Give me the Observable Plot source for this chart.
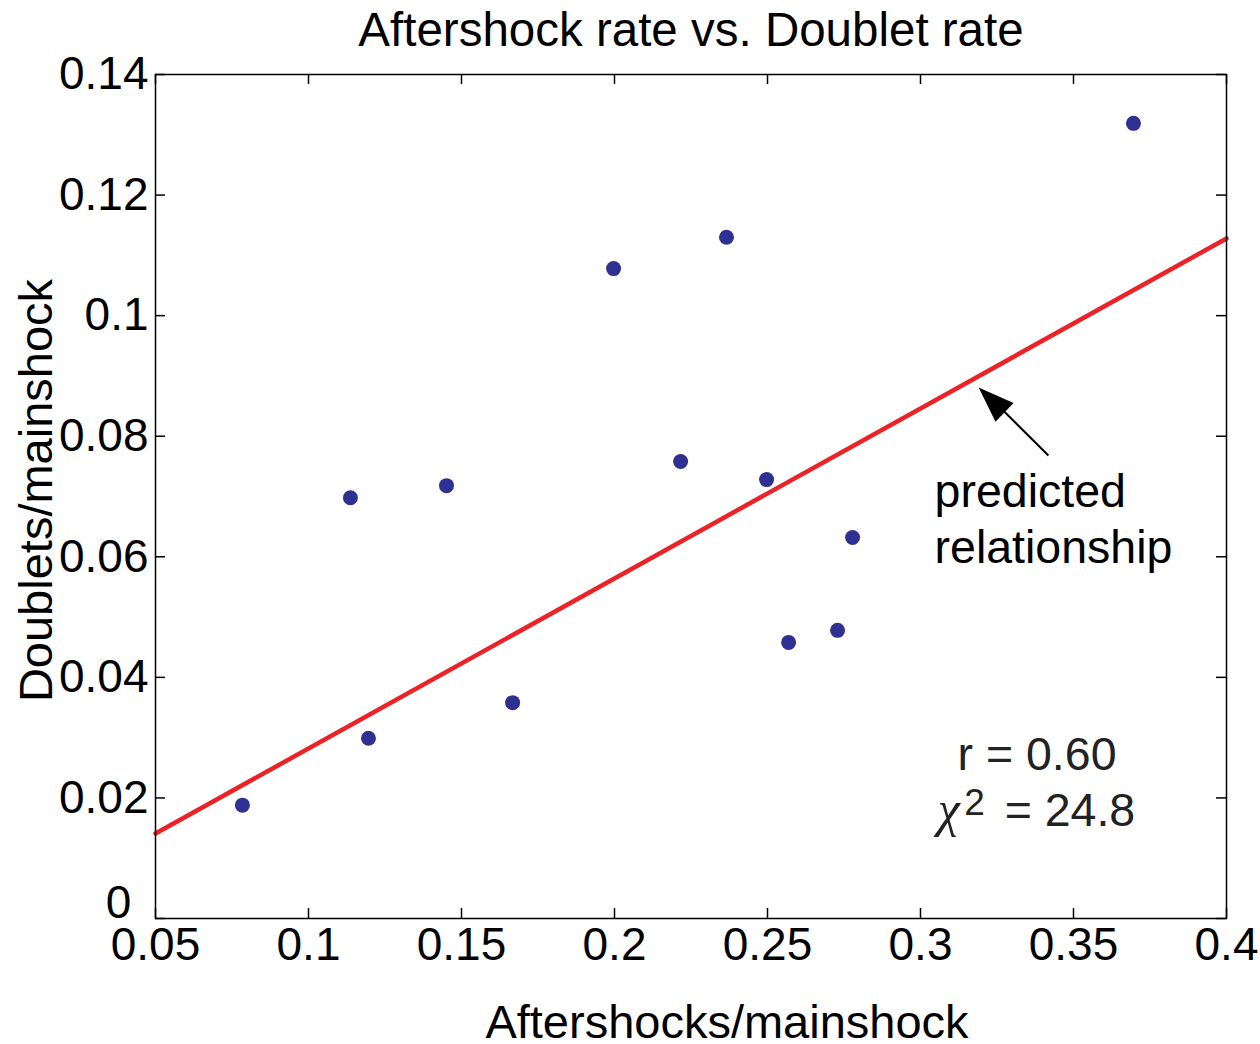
<!DOCTYPE html>
<html><head><meta charset="utf-8">
<script src="https://cdn.jsdelivr.net/npm/d3@7"></script>
<script src="https://cdn.jsdelivr.net/npm/@observablehq/plot@0.6"></script>
<style>body{margin:0;background:#fff}</style>
</head><body><div id="chart"></div>
<script>
// Data
const aftershocks = [0.0784, 0.1137, 0.1196, 0.1451, 0.1667, 0.1997, 0.2216, 0.2366, 0.2497, 0.2569, 0.2729, 0.2778, 0.3696];
const doublets    = [0.0188, 0.0698, 0.0299, 0.0718, 0.0358, 0.1078, 0.0758, 0.1130, 0.0728, 0.0458, 0.0478, 0.0632, 0.1319];
const fitX = [0.05, 0.4];
const fitY = [0.0141, 0.1128];
const xTicks = [0.05, 0.1, 0.15, 0.2, 0.25, 0.3, 0.35, 0.4];
const xTickLabels = ["0.05", "0.1", "0.15", "0.2", "0.25", "0.3", "0.35", "0.4"];
const yTicks = [0, 0.02, 0.04, 0.06, 0.08, 0.1, 0.12, 0.14];
const yTickLabels = ["0", "0.02", "0.04", "0.06", "0.08", "0.1", "0.12", "0.14"];
const titleText = "Aftershock rate vs. Doublet rate";
const xLabel = "Aftershocks/mainshock";
const yLabel = "Doublets/mainshock";

const points = aftershocks.map((x, i) => ({x, y: doublets[i]}));
const fit = fitX.map((x, i) => ({x, y: fitY[i]}));

const W = 1260, H = 1044, ML = 155, MR = 34, MT = 74, MB = 126;
const FW = W - ML - MR, FH = H - MT - MB;
const font = "Liberation Sans, Arial, Helvetica, sans-serif";

const arrowHead = {
  draw(context) {
    context.moveTo(0, 0);
    context.lineTo(-13, 36);
    context.lineTo(13, 36);
    context.closePath();
  }
};

const chart = Plot.plot({
  width: W, height: H,
  marginLeft: ML, marginRight: MR, marginTop: MT, marginBottom: MB,
  style: {fontFamily: font, fontSize: "46px", background: "white", color: "black"},
  x: {domain: [0.05, 0.4]},
  y: {domain: [0, 0.14]},
  marks: [
    Plot.line(fit, {x: "x", y: "y", stroke: "#ec2227", strokeWidth: 4.5}),
    Plot.dot(points, {x: "x", y: "y", r: 7.5, fill: "#2e3192", stroke: "none"}),
    // inward ticks on all four sides
    Plot.ruleX(xTicks, {x: d => d, insetTop: FH - 10, stroke: "black", strokeWidth: 1.5}),
    Plot.ruleX(xTicks, {x: d => d, insetBottom: FH - 10, stroke: "black", strokeWidth: 1.5}),
    Plot.ruleY(yTicks, {y: d => d, insetRight: FW - 10, stroke: "black", strokeWidth: 1.5}),
    Plot.ruleY(yTicks, {y: d => d, insetLeft: FW - 10, stroke: "black", strokeWidth: 1.5}),
    Plot.frame({stroke: "black", strokeWidth: 1.5}),
    Plot.axisX({ticks: xTicks, tickFormat: d => xTickLabels[xTicks.indexOf(d)], tickSize: 0, tickPadding: 9, fontSize: 46, label: null}),
    Plot.axisY({ticks: yTicks.slice(1), tickFormat: d => yTickLabels[yTicks.indexOf(d)], tickSize: 0, tickPadding: 7, fontSize: 46, label: null}),
    Plot.text([yTickLabels[0]], {x: 0.05, y: 0, text: d => d, dx: -37, dy: -15, textAnchor: "middle", fontSize: 46}),
    // title and axis labels
    Plot.text([titleText], {text: d => d, frameAnchor: "top", textAnchor: "middle", lineAnchor: "bottom", dy: -29, fontSize: 47.5}),
    Plot.text([xLabel], {text: d => d, frameAnchor: "bottom", textAnchor: "middle", lineAnchor: "bottom", dy: 119, dx: 36, fontSize: 47}),
    Plot.text([yLabel], {text: d => d, frameAnchor: "left", textAnchor: "middle", lineAnchor: "bottom", rotate: -90, dx: -104, dy: -6, fontSize: 47}),
    // annotation arrow
    Plot.link([{x1: 0.3418, y1: 0.0768, x2: 0.3240, y2: 0.0858}], {x1: "x1", y1: "y1", x2: "x2", y2: "y2", stroke: "black", strokeWidth: 2}),
    Plot.dot([{x: 0.3190, y: 0.0881}], {x: "x", y: "y", symbol: arrowHead, rotate: -46, fill: "black", stroke: "none"}),
    Plot.text([{x: 0.3046, y: 0.0682, t: "predicted"}, {x: 0.3046, y: 0.0589, t: "relationship"}],
      {x: "x", y: "y", text: "t", textAnchor: "start", lineAnchor: "bottom", fontSize: 46.5}),
    // statistics
    Plot.text([{x: 0.3121, y: 0.0247, t: "r = 0.60"}], {x: "x", y: "y", text: "t", textAnchor: "start", lineAnchor: "bottom", fontSize: 46.5, fill: "#222"}),
    Plot.text([{x: 0.3056, y: 0.0154, t: "χ"}], {x: "x", y: "y", text: "t", textAnchor: "start", lineAnchor: "bottom", fontSize: 50, fontStyle: "italic", fontFamily: "Liberation Serif, serif", fill: "#222"}),
    Plot.text([{x: 0.3143, y: 0.0171, t: "2"}], {x: "x", y: "y", text: "t", textAnchor: "start", lineAnchor: "bottom", fontSize: 37, fill: "#222"}),
    Plot.text([{x: 0.3275, y: 0.0154, t: "= 24.8"}], {x: "x", y: "y", text: "t", textAnchor: "start", lineAnchor: "bottom", fontSize: 46.5, fill: "#222"})
  ]
});
document.getElementById("chart").appendChild(chart);
</script>
</body></html>
